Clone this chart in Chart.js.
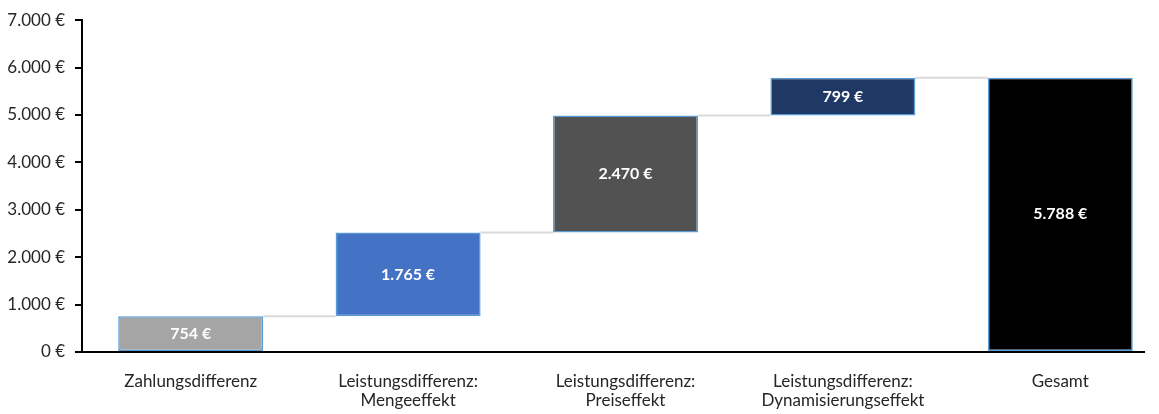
<!DOCTYPE html>
<html><head><meta charset="utf-8">
<script src="https://cdn.jsdelivr.net/npm/chart.js@4"></script>
<style>html,body{margin:0;padding:0;overflow:hidden;background:#fff}#w{width:1169px;height:414px;position:relative}</style>
</head><body><div id="w"><canvas id="c"></canvas></div>
<script>
const categories = [["Zahlungsdifferenz"],["Leistungsdifferenz:","Mengeeffekt"],["Leistungsdifferenz:","Preiseffekt"],["Leistungsdifferenz:","Dynamisierungseffekt"],["Gesamt"]];
const deltas = [754, 1765, 2470, 799];
const total = 5788;
const barColors = ["#A5A5A5","#4472C4","#525252","#203864","#000000"];
const yTicks = [0,1000,2000,3000,4000,5000,6000,7000];

const ranges = [];
let acc = 0;
deltas.forEach(d => { ranges.push([acc, acc + d]); acc += d; });
ranges.push([0, total]);
const labelValues = deltas.concat([total]);
const fmt = v => v.toLocaleString('de-DE') + ' €';

const FONT = "Lato, 'Open Sans', sans-serif";

const extras = {
  id: 'extras',
  beforeDatasetsDraw(chart) {
    const ctx = chart.ctx, meta = chart.getDatasetMeta(0), y = chart.scales.y;
    ctx.save();
    ctx.strokeStyle = '#D9D9D9'; ctx.lineWidth = 2;
    for (let i = 0; i < meta.data.length - 1; i++) {
      const a = meta.data[i], b = meta.data[i+1];
      const top = ranges[i][1];
      const yy = y.getPixelForValue(top);
      ctx.beginPath();
      ctx.moveTo(a.x + a.width/2, yy); ctx.lineTo(b.x - b.width/2, yy); ctx.stroke();
    }
    ctx.restore();
  },
  afterDatasetsDraw(chart) {
    const ctx = chart.ctx, meta = chart.getDatasetMeta(0);
    ctx.save();
    ctx.fillStyle = '#fff';
    ctx.font = "bold 16px " + FONT;
    ctx.textAlign = 'center'; ctx.textBaseline = 'middle';
    meta.data.forEach((el, i) => {
      ctx.fillText(fmt(labelValues[i]), el.x, (el.y + el.base)/2);
    });
    const ya = chart.scales.y.getPixelForValue(0);
    ctx.strokeStyle = '#000'; ctx.lineWidth = 2;
    ctx.beginPath(); ctx.moveTo(75, ya); ctx.lineTo(1145, ya); ctx.stroke();
    ctx.restore();
  }
};

new Chart(document.getElementById('c'), {
  type: 'bar',
  data: {
    labels: categories,
    datasets: [{
      data: ranges,
      backgroundColor: barColors,
      borderColor: '#5B9BD5',
      borderWidth: 1.5,
      borderSkipped: false,
      barPercentage: 0.667,
      categoryPercentage: 1
    }]
  },
  options: {
    responsive: true, maintainAspectRatio: false, animation: false,
    layout: { padding: { top: 20, right: 0, left: 0, bottom: 0 } },
    plugins: { legend: { display: false }, tooltip: { enabled: false } },
    scales: {
      x: {
        grid: { display: false },
        border: { display: false },
        ticks: { color: '#262626', font: { family: FONT, size: 17, lineHeight: 1.12 }, padding: 11.5, maxRotation: 0 },
        afterFit(s) { s.height = 62; }
      },
      y: {
        min: 0, max: 7000,
        afterBuildTicks(s) { s.ticks = yTicks.map(v => ({ value: v })); },
        grid: { drawOnChartArea: false, drawTicks: true, tickLength: 7, color: '#000', lineWidth: 2 },
        border: { display: true, color: '#000', width: 2 },
        ticks: { color: '#262626', font: { family: FONT, size: 17 }, padding: 10, callback: v => fmt(v) },
        afterFit(s) { s.width = 82; }
      }
    }
  },
  plugins: [extras]
});
</script></body></html>
